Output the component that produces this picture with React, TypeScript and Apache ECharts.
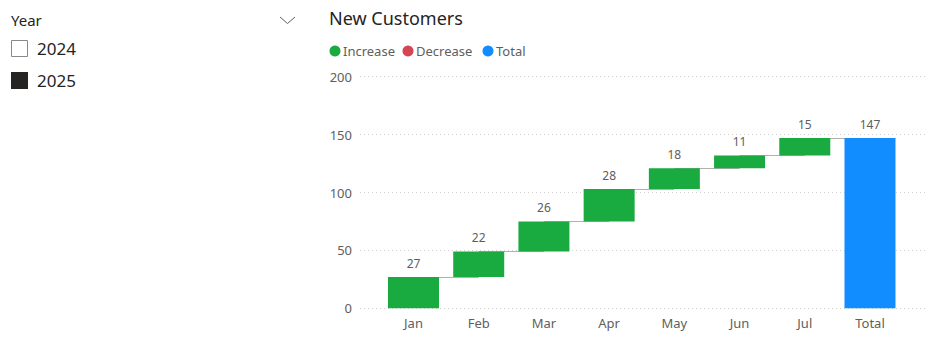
import React, { useEffect, useRef } from "react";
import * as echarts from "echarts";

const categories = ["Jan", "Feb", "Mar", "Apr", "May", "Jun", "Jul", "Total"];
const increases = [27, 22, 26, 28, 18, 11, 15];
const decreases: number[] = [];
const totalValue = 147;
const yTicks = { min: 0, max: 200, interval: 50 };
const legendNames = ["Increase", "Decrease", "Total"];
const legendColors = ["#1AAB40", "#D64554", "#118DFF"];
const slicerTitle = "Year";
const slicerItems = ["2024", "2025"];
const slicerChecked = [false, true];

const FONT = "'Noto Sans', sans-serif";

export default function App() {
  const ref = useRef<HTMLDivElement>(null);
  useEffect(() => {
    if (!ref.current) return;
    const chart = echarts.init(ref.current, undefined, { renderer: "svg" });

    const cum: number[] = [0];
    increases.forEach((v, i) => cum.push(cum[i] + v));
    const base = [...cum.slice(0, increases.length), 0];
    const incData: any[] = [...increases, "-"];
    const totData: any[] = [...increases.map(() => "-"), totalValue];
    const decData: any[] = categories.map(() => "-");
    decreases.forEach((v, i) => (decData[i] = v));

    const connectors: any[] = [];
    for (let i = 0; i < increases.length; i++) {
      const lvl = cum[i + 1];
      connectors.push([
        { coord: [categories[i], lvl] },
        { coord: [categories[i + 1], lvl] },
      ]);
    }

    const graphic: any[] = [];
    graphic.push({
      type: "text", left: 11, top: 12,
      style: { text: slicerTitle, fontSize: 15, fontFamily: FONT, fill: "#252423" },
    });
    graphic.push({
      type: "polyline",
      shape: { points: [[280, 17], [287.5, 23.5], [295, 17]] },
      style: { stroke: "#605E5C", lineWidth: 1, fill: null },
    });
    slicerItems.forEach((t, i) => {
      const cy = 48.5 + i * 32;
      graphic.push({
        type: "rect",
        shape: slicerChecked[i]
          ? { x: 11, y: cy - 8.5, width: 17, height: 17 }
          : { x: 11.5, y: cy - 8, width: 16, height: 16 },
        style: slicerChecked[i]
          ? { fill: "#252423" }
          : { fill: "#fff", stroke: "#888", lineWidth: 1 },
      });
      graphic.push({
        type: "text", x: 37, y: cy,
        style: { text: t, fontSize: 17, fontFamily: FONT, fill: "#252423", verticalAlign: "middle" },
      });
    });
    graphic.push({
      type: "text", x: 329, y: 18,
      style: { text: "New Customers", fontSize: 18, fontFamily: FONT, fill: "#252423", verticalAlign: "middle" },
    });
    const legX = [335, 408, 488];
    legendNames.forEach((n, i) => {
      graphic.push({
        type: "circle", shape: { cx: legX[i], cy: 51, r: 5.5 },
        style: { fill: legendColors[i] },
      });
      graphic.push({
        type: "text", x: legX[i] + 8, y: 51,
        style: { text: n, fontSize: 13, fontFamily: FONT, fill: "#605E5C", verticalAlign: "middle" },
      });
    });

    const labelStyle = {
      show: true, position: "top", distance: 8, color: "#605E5C",
      fontSize: 12, fontFamily: FONT,
    };

    chart.setOption({
      animation: false,
      textStyle: { fontFamily: FONT },
      graphic,
      grid: [
        { left: 360, right: 11, top: 76.7, bottom: 44.7 },
        { left: 380.9, right: 33.4, top: 76.7, bottom: 44.7 },
      ],
      xAxis: [
        { gridIndex: 0, type: "value", show: false, min: 0, max: 1 },
        {
          gridIndex: 1, type: "category", data: categories,
          axisLine: { show: false }, axisTick: { show: false },
          axisLabel: { color: "#605E5C", fontSize: 13, margin: 8, fontFamily: FONT },
        },
      ],
      yAxis: [
        {
          gridIndex: 0, type: "value", ...yTicks,
          axisLine: { show: false }, axisTick: { show: false },
          axisLabel: { color: "#605E5C", fontSize: 13, margin: 8, fontFamily: FONT },
          splitLine: { lineStyle: { type: [1, 3], color: "#D2D0CE", width: 1 } },
        },
        { gridIndex: 1, type: "value", ...yTicks, show: false, splitLine: { show: false } },
      ],
      series: [
        {
          name: "base", type: "bar", stack: "w", xAxisIndex: 1, yAxisIndex: 1,
          data: base, barWidth: 51, z: 1, silent: true,
          itemStyle: { color: "transparent" },
          markLine: {
            z: 1, silent: true, symbol: "none",
            label: { show: false },
            lineStyle: { color: "#B3B0AD", type: "solid", width: 1.2 },
            data: connectors,
          },
        },
        {
          name: "Increase", type: "bar", stack: "w", xAxisIndex: 1, yAxisIndex: 1,
          data: incData, barWidth: 51, z: 3,
          itemStyle: { color: legendColors[0] }, label: labelStyle,
        },
        {
          name: "Decrease", type: "bar", stack: "w", xAxisIndex: 1, yAxisIndex: 1,
          data: decData, barWidth: 51, z: 3,
          itemStyle: { color: legendColors[1] }, label: labelStyle,
        },
        {
          name: "Total", type: "bar", stack: "w", xAxisIndex: 1, yAxisIndex: 1,
          data: totData, barWidth: 51, z: 3,
          itemStyle: { color: legendColors[2] }, label: labelStyle,
        },
      ],
    });
    return () => chart.dispose();
  }, []);
  return (
    <div
      ref={ref}
      style={{ position: "fixed", left: 0, top: 0, width: 936, height: 353, background: "#fff" }}
    />
  );
}
